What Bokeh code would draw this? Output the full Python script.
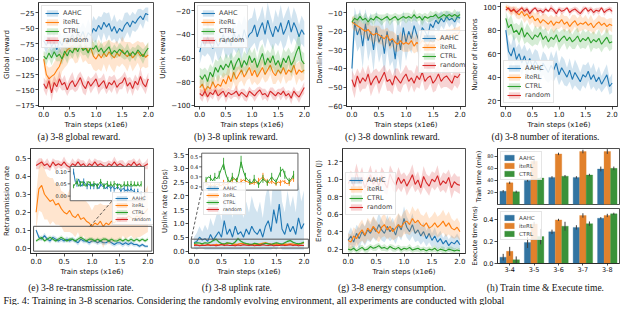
import numpy as np
from bokeh.plotting import figure
from bokeh.layouts import row, column
from bokeh.models import (ColumnDataSource, Range1d, FixedTicker, Legend, LegendItem,
                          CustomJSTickFormatter, FactorRange, PrintfTickFormatter)
from bokeh.transform import dodge
from bokeh.core.properties import value
from bokeh.embed import file_html
from bokeh.resources import INLINE

# ---------------- data ----------------
METHODS = ["AAHC", "iteRL", "CTRL", "random"]
COLORS = ["#1f77b4", "#ff7f0e", "#2ca02c", "#d62728"]
STEPS = [round(0.05 * i, 2) for i in range(41)]
X_TICKS = [0.0, 0.5, 1.0, 1.5, 2.0]

# (a) global reward
GLOBAL = {
    "AAHC": [-70, -78, -65, -80, -72, -85, -70, -78, -66, -75, -68, -60, -72, -58, -65, -55, -68, -57, -62, -50, -55,
             -45, -52, -40, -48, -42, -55, -47, -58, -50, -55, -45, -40, -48, -38, -42, -35, -30, -36, -26, -28],
    "iteRL": [-100, -125, -132, -128, -125, -118, -112, -100, -92, -85, -82, -78, -85, -80, -76, -84, -78, -88, -82, -95, -100,
              -92, -98, -90, -96, -88, -94, -98, -90, -95, -85, -92, -96, -90, -98, -93, -88, -95, -92, -97, -93],
    "CTRL": [-95, -100, -90, -98, -88, -96, -92, -100, -87, -95, -85, -90, -80, -88, -78, -86, -82, -90, -80, -84, -78,
             -88, -82, -90, -85, -80, -92, -86, -90, -84, -88, -92, -86, -95, -88, -93, -85, -90, -96, -88, -82],
    "random": [-140, -148, -135, -155, -138, -145, -132, -142, -138, -150, -140, -135, -145, -138, -130, -142, -148, -136, -144, -138, -132,
               -145, -140, -135, -148, -138, -142, -135, -146, -140, -138, -130, -144, -138, -148, -136, -142, -128, -140, -145, -132],
}
GLOBAL_SD = {
    "AAHC": [10, 14, 12, 15, 16, 13, 18, 14, 12, 16, 15, 18, 14, 20, 16, 15, 18, 22, 16, 20, 18, 15, 20, 17, 22, 18, 16, 20, 18, 15, 17, 20, 16, 18, 15, 14, 16, 12, 15, 10, 12],
    "iteRL": [12, 15, 18, 16, 20, 22, 25, 20, 22, 24, 18, 20, 22, 25, 18, 22, 24, 20, 26, 22, 20, 24, 22, 18, 25, 20, 22, 24, 20, 18, 22, 20, 24, 18, 22, 20, 18, 22, 20, 18, 20],
    "CTRL": [8, 10, 9, 12, 10, 8, 11, 9, 10, 12, 8, 10, 9, 12, 10, 8, 11, 10, 9, 12, 10, 8, 11, 9, 10, 12, 9, 10, 8, 11, 10, 9, 12, 10, 8, 11, 9, 10, 12, 9, 10],
    "random": [10, 12, 9, 14, 11, 10, 13, 9, 12, 10, 11, 14, 9, 12, 10, 13, 11, 9, 12, 10, 11, 13, 10, 12, 9, 11, 13, 10, 12, 9, 11, 10, 13, 9, 12, 11, 10, 14, 9, 12, 10],
}

# (b) uplink reward
UPLINK = {
    "AAHC": [-55, -45, -50, -42, -48, -52, -44, -50, -46, -40, -48, -42, -50, -38, -45, -40, -47, -36, -44, -40, -38,
             -32, -42, -35, -30, -40, -28, -36, -42, -33, -38, -30, -40, -35, -28, -38, -30, -35, -42, -36, -40],
    "iteRL": [-85, -82, -88, -84, -86, -80, -85, -82, -84, -78, -82, -75, -80, -72, -78, -74, -70, -76, -72, -68, -75,
              -70, -76, -72, -68, -74, -70, -66, -72, -75, -70, -73, -68, -74, -70, -72, -66, -74, -70, -72, -70],
    "CTRL": [-75, -78, -74, -80, -72, -76, -68, -72, -66, -70, -65, -68, -62, -70, -64, -60, -68, -62, -66, -58, -64,
             -60, -68, -62, -56, -66, -60, -64, -58, -66, -62, -68, -60, -64, -58, -66, -62, -55, -50, -62, -65],
    "random": [-90, -92, -88, -93, -89, -91, -87, -92, -90, -88, -93, -89, -91, -90, -88, -92, -89, -91, -93, -88, -90,
               -92, -89, -87, -91, -90, -93, -88, -90, -92, -89, -91, -88, -92, -90, -94, -88, -91, -93, -89, -85],
}
UPLINK_SD = {
    "AAHC": [10, 12, 9, 14, 11, 13, 10, 12, 14, 11, 13, 15, 12, 14, 11, 13, 15, 12, 14, 13, 12, 15, 13, 11, 14, 12, 15, 13, 11, 14, 12, 15, 13, 14, 12, 11, 13, 12, 10, 12, 11],
    "iteRL": [6, 7, 5, 8, 6, 7, 6, 8, 7, 6, 8, 9, 7, 8, 10, 7, 9, 8, 7, 9, 8, 10, 7, 9, 8, 7, 9, 8, 10, 7, 8, 9, 7, 8, 9, 7, 8, 9, 7, 8, 8],
    "CTRL": [7, 8, 6, 9, 7, 8, 7, 9, 8, 7, 9, 8, 7, 10, 8, 9, 7, 8, 9, 7, 8, 9, 7, 10, 8, 9, 7, 8, 10, 8, 9, 7, 8, 9, 7, 10, 8, 9, 12, 8, 9],
    "random": [4, 5, 3, 5, 4, 4, 3, 5, 4, 3, 5, 4, 4, 3, 5, 4, 3, 5, 4, 4, 3, 5, 4, 3, 5, 4, 4, 3, 5, 4, 3, 5, 4, 4, 3, 5, 4, 3, 5, 4, 5],
}

# (c) downlink reward
DOWNLINK = {
    "AAHC": [-40, -15, -22, -18, -28, -16, -25, -20, -30, -18, -26, -22, -32, -20, -28, -24, -35, -22, -30, -18, -26,
             -20, -24, -17, -22, -26, -18, -20, -23, -16, -18, -14, -16, -13, -15, -12, -14, -13, -15, -12, -13],
    "iteRL": [-15, -16, -17, -18, -19, -20, -19, -21, -22, -21, -22, -23, -24, -22, -25, -24, -26, -27, -25, -27, -26,
              -27, -25, -28, -26, -27, -25, -26, -28, -25, -26, -24, -25, -23, -24, -22, -23, -22, -21, -22, -20],
    "CTRL": [-15, -13, -14, -12, -14, -13, -15, -13, -14, -12, -13, -14, -13, -12, -14, -13, -12, -14, -13, -12, -13,
             -12, -13, -11, -13, -12, -14, -12, -13, -12, -12, -11, -13, -12, -11, -12, -11, -12, -11, -12, -11],
    "random": [-46, -50, -44, -48, -45, -47, -43, -49, -46, -44, -48, -45, -42, -47, -46, -49, -44, -46, -48, -45, -43,
               -47, -45, -48, -44, -46, -42, -47, -45, -44, -48, -46, -43, -47, -45, -44, -46, -48, -44, -45, -43],
}
DOWNLINK_SD = {
    "AAHC": [10, 8, 9, 10, 12, 8, 11, 10, 12, 9, 11, 10, 12, 10, 11, 12, 10, 11, 12, 9, 10, 9, 8, 7, 8, 9, 7, 6, 7, 5, 6, 4, 5, 4, 4, 3, 4, 3, 4, 3, 3],
    "iteRL": [3, 4, 3, 4, 3, 4, 5, 4, 5, 4, 5, 4, 5, 4, 5, 4, 5, 4, 5, 4, 5, 4, 5, 4, 5, 4, 5, 4, 5, 4, 4, 3, 4, 3, 4, 3, 4, 3, 3, 4, 3],
    "CTRL": [2, 2, 3, 2, 2, 3, 2, 2, 3, 2, 2, 3, 2, 2, 3, 2, 2, 3, 2, 2, 3, 2, 2, 3, 2, 2, 3, 2, 2, 3, 2, 2, 3, 2, 2, 3, 2, 2, 3, 2, 2],
    "random": [5, 6, 4, 5, 6, 4, 5, 6, 5, 4, 6, 5, 4, 5, 6, 5, 4, 6, 5, 4, 5, 6, 4, 5, 6, 5, 4, 5, 6, 4, 5, 6, 5, 4, 5, 6, 5, 4, 5, 6, 5],
}

# (d) number of iterations
ITERS = {
    "AAHC": [80, 62, 58, 65, 55, 60, 52, 58, 50, 56, 48, 54, 50, 45, 52, 48, 44, 50, 46, 52, 42,
             48, 44, 40, 46, 38, 44, 40, 36, 42, 40, 45, 38, 42, 36, 40, 34, 38, 42, 32, 35],
    "iteRL": [100, 98, 96, 97, 95, 93, 96, 92, 94, 90, 92, 88, 90, 86, 89, 87, 85, 88, 84, 87, 86,
              89, 85, 87, 83, 86, 88, 84, 86, 85, 87, 84, 86, 82, 85, 87, 84, 86, 83, 85, 84],
    "CTRL": [90, 82, 85, 78, 80, 76, 82, 74, 78, 75, 72, 76, 74, 78, 72, 75, 70, 74, 72, 76, 70,
             73, 75, 71, 74, 70, 72, 75, 70, 73, 71, 74, 69, 72, 70, 73, 68, 71, 74, 69, 70],
    "random": [97, 99, 96, 98, 95, 97, 99, 96, 98, 94, 97, 99, 96, 97, 95, 98, 96, 99, 97, 94, 98,
               96, 97, 99, 95, 97, 98, 96, 94, 97, 99, 96, 98, 95, 97, 96, 99, 95, 97, 98, 96],
}
ITERS_SD = {
    "AAHC": [8, 10, 9, 12, 10, 9, 11, 10, 12, 9, 11, 10, 12, 9, 10, 11, 9, 12, 10, 11, 9, 10, 11, 8, 10, 9, 11, 10, 8, 9, 10, 8, 9, 10, 8, 9, 7, 8, 9, 7, 8],
    "iteRL": [2, 3, 4, 3, 5, 4, 5, 6, 5, 6, 5, 6, 7, 6, 5, 7, 6, 5, 7, 6, 5, 6, 7, 5, 6, 7, 5, 6, 7, 5, 6, 5, 7, 6, 5, 6, 7, 5, 6, 5, 6],
    "CTRL": [6, 7, 8, 7, 6, 8, 7, 6, 8, 7, 6, 8, 7, 6, 8, 7, 6, 8, 7, 6, 8, 7, 6, 8, 7, 6, 8, 7, 6, 8, 7, 6, 8, 7, 6, 8, 7, 6, 8, 7, 6],
    "random": [2, 1, 3, 2, 3, 2, 1, 3, 2, 3, 2, 1, 3, 2, 3, 2, 1, 3, 2, 3, 2, 3, 2, 1, 3, 2, 2, 3, 2, 3, 1, 3, 2, 3, 2, 3, 1, 3, 2, 2, 3],
}

# (e) re-transmission rate
RETX = {
    "AAHC": [0.10, 0.06, 0.05, 0.07, 0.05, 0.04, 0.06, 0.05, 0.04, 0.05, 0.04, 0.05, 0.04, 0.05, 0.04, 0.03, 0.05, 0.04, 0.04, 0.03, 0.04,
             0.04, 0.03, 0.04, 0.03, 0.03, 0.04, 0.03, 0.02, 0.03, 0.03, 0.02, 0.03, 0.02, 0.03, 0.02, 0.02, 0.01, 0.02, 0.01, 0.01],
    "iteRL": [0.20, 0.33, 0.35, 0.30, 0.28, 0.26, 0.27, 0.24, 0.25, 0.22, 0.20, 0.19, 0.21, 0.18, 0.17, 0.19, 0.16, 0.17, 0.15, 0.14, 0.12,
              0.14, 0.13, 0.15, 0.12, 0.14, 0.13, 0.15, 0.14, 0.16, 0.15, 0.17, 0.16, 0.18, 0.17, 0.16, 0.18, 0.17, 0.19, 0.20, 0.22],
    "CTRL": [0.04, 0.05, 0.06, 0.04, 0.05, 0.06, 0.05, 0.04, 0.05, 0.06, 0.05, 0.04, 0.05, 0.05, 0.04, 0.05, 0.06, 0.05, 0.04, 0.05, 0.05,
             0.04, 0.05, 0.04, 0.05, 0.05, 0.04, 0.05, 0.04, 0.04, 0.05, 0.04, 0.05, 0.04, 0.05, 0.04, 0.05, 0.04, 0.05, 0.04, 0.05],
    "random": [0.46, 0.47, 0.48, 0.46, 0.47, 0.45, 0.48, 0.46, 0.47, 0.46, 0.48, 0.46, 0.45, 0.47, 0.46, 0.48, 0.46, 0.47, 0.45, 0.47, 0.46,
               0.48, 0.46, 0.47, 0.46, 0.45, 0.47, 0.46, 0.48, 0.46, 0.47, 0.46, 0.45, 0.47, 0.46, 0.48, 0.46, 0.47, 0.45, 0.46, 0.47],
}
RETX_SD = {
    "AAHC": [0.012, 0.015, 0.012, 0.015, 0.012, 0.014, 0.012, 0.015, 0.012, 0.014, 0.012, 0.015, 0.012, 0.014, 0.012, 0.015, 0.012, 0.014, 0.012, 0.015, 0.012,
             0.014, 0.012, 0.015, 0.012, 0.014, 0.012, 0.015, 0.012, 0.014, 0.012, 0.015, 0.012, 0.014, 0.012, 0.012, 0.010, 0.010, 0.010, 0.008, 0.008],
    "iteRL": [0.10, 0.12, 0.15, 0.14, 0.12, 0.13, 0.12, 0.11, 0.12, 0.10, 0.11, 0.10, 0.12, 0.10, 0.11, 0.10, 0.12, 0.10, 0.11, 0.10, 0.09,
              0.10, 0.11, 0.10, 0.12, 0.10, 0.11, 0.12, 0.10, 0.11, 0.12, 0.10, 0.11, 0.12, 0.10, 0.11, 0.12, 0.11, 0.12, 0.12, 0.13],
    "CTRL": [0.008, 0.010, 0.012, 0.009, 0.010, 0.012, 0.009, 0.010, 0.011, 0.012, 0.009, 0.010, 0.011, 0.009, 0.010, 0.012, 0.010, 0.009, 0.011, 0.010, 0.012,
             0.009, 0.010, 0.011, 0.012, 0.009, 0.010, 0.011, 0.009, 0.012, 0.010, 0.009, 0.011, 0.010, 0.012, 0.009, 0.010, 0.011, 0.009, 0.010, 0.011],
    "random": [0.020, 0.030, 0.020, 0.020, 0.030, 0.020, 0.020, 0.030, 0.020, 0.020, 0.030, 0.020, 0.020, 0.030, 0.020, 0.020, 0.030, 0.020, 0.020, 0.030, 0.020,
               0.020, 0.030, 0.020, 0.020, 0.030, 0.020, 0.020, 0.030, 0.020, 0.020, 0.030, 0.020, 0.020, 0.030, 0.020, 0.020, 0.030, 0.020, 0.020, 0.030],
}

# (f) uplink rate
RATE = {
    "AAHC": [0.30, 0.35, 0.50, 0.40, 0.45, 0.35, 0.60, 0.40, 0.55, 0.70, 0.50, 1.10, 0.60, 0.80, 0.50, 0.90, 0.60, 0.70, 0.50, 0.80, 0.60,
             0.90, 0.70, 0.60, 0.80, 0.50, 0.90, 1.10, 0.70, 1.50, 1.00, 1.70, 0.80, 0.60, 1.00, 0.70, 0.90, 0.60, 1.20, 0.80, 1.00],
    "iteRL": [0.24, 0.22, 0.21, 0.22, 0.21, 0.23, 0.22, 0.21, 0.24, 0.22, 0.23, 0.25, 0.27, 0.28, 0.26, 0.24, 0.25, 0.27, 0.26, 0.25, 0.24,
              0.23, 0.25, 0.24, 0.26, 0.28, 0.30, 0.27, 0.25, 0.24, 0.26, 0.24, 0.23, 0.25, 0.24, 0.26, 0.25, 0.23, 0.24, 0.27, 0.29],
    "CTRL": [0.27, 0.30, 0.29, 0.26, 0.30, 0.28, 0.32, 0.38, 0.43, 0.33, 0.27, 0.25, 0.30, 0.28, 0.26, 0.33, 0.45, 0.36, 0.30, 0.27, 0.25,
             0.24, 0.28, 0.26, 0.22, 0.25, 0.28, 0.26, 0.24, 0.27, 0.30, 0.27, 0.25, 0.30, 0.35, 0.38, 0.32, 0.28, 0.26, 0.28, 0.32],
    "random": [0.20, 0.22, 0.19, 0.21, 0.20, 0.23, 0.20, 0.22, 0.19, 0.21, 0.24, 0.20, 0.22, 0.20, 0.21, 0.19, 0.22, 0.20, 0.23, 0.21, 0.20,
               0.22, 0.19, 0.21, 0.20, 0.23, 0.21, 0.20, 0.22, 0.19, 0.21, 0.20, 0.22, 0.20, 0.21, 0.23, 0.20, 0.22, 0.19, 0.21, 0.20],
}
RATE_SD = {
    "AAHC": [0.20, 0.30, 0.40, 0.30, 0.50, 0.40, 0.60, 0.50, 0.70, 0.90, 0.60, 1.20, 0.80, 1.00, 0.70, 1.10, 0.80, 0.90, 0.70, 1.00, 0.80,
             1.10, 0.90, 0.80, 1.00, 0.70, 1.10, 1.30, 0.90, 1.40, 1.20, 1.50, 1.00, 0.80, 1.20, 0.90, 1.10, 0.80, 1.30, 1.00, 1.20],
    "iteRL": [0.03, 0.02, 0.03, 0.02, 0.03, 0.03, 0.02, 0.03, 0.03, 0.02, 0.03, 0.03, 0.04, 0.03, 0.03, 0.02, 0.03, 0.04, 0.03, 0.03, 0.02,
              0.03, 0.03, 0.02, 0.03, 0.04, 0.04, 0.03, 0.03, 0.02, 0.03, 0.03, 0.02, 0.03, 0.03, 0.03, 0.02, 0.03, 0.03, 0.04, 0.04],
    "CTRL": [0.03, 0.04, 0.03, 0.03, 0.04, 0.03, 0.04, 0.05, 0.06, 0.04, 0.03, 0.03, 0.04, 0.03, 0.03, 0.05, 0.06, 0.05, 0.04, 0.03, 0.03,
             0.03, 0.04, 0.03, 0.03, 0.03, 0.04, 0.03, 0.03, 0.04, 0.04, 0.03, 0.03, 0.04, 0.05, 0.05, 0.04, 0.03, 0.03, 0.04, 0.04],
    "random": [0.03, 0.02, 0.03, 0.03, 0.02, 0.03, 0.03, 0.02, 0.03, 0.03, 0.02, 0.03, 0.03, 0.02, 0.03, 0.03, 0.02, 0.03, 0.03, 0.02, 0.03,
               0.03, 0.02, 0.03, 0.03, 0.02, 0.03, 0.03, 0.02, 0.03, 0.03, 0.02, 0.03, 0.03, 0.02, 0.03, 0.03, 0.02, 0.03, 0.03, 0.02],
}

# (g) energy consumption
ENERGY = {
    "AAHC": [0.30, 0.35, 0.28, 0.38, 0.32, 0.40, 0.35, 0.42, 0.38, 0.45, 0.40, 0.48, 0.42, 0.38, 0.46, 0.40, 0.44, 0.36, 0.48, 0.42, 0.55,
             0.45, 0.40, 0.48, 0.38, 0.42, 0.35, 0.40, 0.32, 0.38, 0.30, 0.35, 0.28, 0.32, 0.26, 0.30, 0.24, 0.28, 0.26, 0.30, 0.25],
    "iteRL": [0.30, 0.28, 0.35, 0.32, 0.38, 0.42, 0.36, 0.44, 0.40, 0.46, 0.42, 0.38, 0.45, 0.48, 0.42, 0.46, 0.40, 0.44, 0.48, 0.45, 0.50,
              0.52, 0.48, 0.55, 0.50, 0.53, 0.48, 0.46, 0.50, 0.44, 0.46, 0.50, 0.45, 0.48, 0.52, 0.46, 0.50, 0.44, 0.42, 0.45, 0.40],
    "CTRL": [0.20, 0.19, 0.21, 0.18, 0.20, 0.22, 0.19, 0.20, 0.23, 0.21, 0.22, 0.24, 0.21, 0.22, 0.20, 0.23, 0.21, 0.20, 0.22, 0.19, 0.21,
             0.20, 0.22, 0.19, 0.20, 0.21, 0.19, 0.20, 0.18, 0.20, 0.19, 0.21, 0.18, 0.20, 0.19, 0.18, 0.20, 0.19, 0.18, 0.19, 0.18],
    "random": [0.95, 1.00, 0.92, 1.08, 0.96, 1.02, 0.90, 0.98, 1.05, 0.94, 1.00, 0.92, 1.04, 0.96, 0.90, 1.06, 0.98, 0.93, 1.02, 0.95, 1.00,
               0.92, 0.98, 1.05, 0.94, 0.99, 0.90, 1.03, 0.96, 0.92, 1.00, 0.97, 1.04, 0.93, 0.98, 0.95, 1.02, 0.90, 0.97, 0.94, 0.93],
}
ENERGY_SD = {
    "AAHC": [0.08, 0.10, 0.09, 0.10, 0.12, 0.10, 0.11, 0.12, 0.10, 0.12, 0.11, 0.13, 0.12, 0.10, 0.13, 0.11, 0.12, 0.10, 0.13, 0.12, 0.14,
             0.12, 0.11, 0.13, 0.10, 0.12, 0.10, 0.11, 0.09, 0.10, 0.08, 0.10, 0.08, 0.09, 0.07, 0.08, 0.07, 0.08, 0.07, 0.08, 0.07],
    "iteRL": [0.08, 0.09, 0.10, 0.10, 0.11, 0.12, 0.10, 0.12, 0.11, 0.12, 0.11, 0.10, 0.12, 0.13, 0.11, 0.12, 0.10, 0.12, 0.13, 0.12, 0.13,
              0.14, 0.12, 0.14, 0.13, 0.14, 0.12, 0.12, 0.13, 0.11, 0.12, 0.13, 0.12, 0.12, 0.13, 0.12, 0.13, 0.11, 0.10, 0.11, 0.10],
    "CTRL": [0.03, 0.04, 0.03, 0.03, 0.04, 0.03, 0.03, 0.04, 0.03, 0.03, 0.04, 0.03, 0.03, 0.04, 0.03, 0.03, 0.04, 0.03, 0.03, 0.04, 0.03,
             0.03, 0.04, 0.03, 0.03, 0.04, 0.03, 0.03, 0.04, 0.03, 0.03, 0.04, 0.03, 0.03, 0.04, 0.03, 0.03, 0.04, 0.03, 0.03, 0.03],
    "random": [0.08, 0.10, 0.12, 0.10, 0.09, 0.12, 0.10, 0.08, 0.11, 0.10, 0.12, 0.09, 0.10, 0.12, 0.08, 0.10, 0.11, 0.09, 0.12, 0.10, 0.08,
               0.11, 0.10, 0.12, 0.09, 0.10, 0.08, 0.12, 0.10, 0.11, 0.09, 0.10, 0.12, 0.08, 0.10, 0.11, 0.09, 0.12, 0.10, 0.09, 0.10],
}

# (h) bar charts
SCENARIOS = ["3-4", "3-5", "3-6", "3-7", "3-8"]
BAR_METHODS = ["AAHC", "iteRL", "CTRL"]
BAR_COLORS = ["#3274a1", "#e1812c", "#3a923a"]
TRAIN_TIME = {"AAHC": [22, 40, 45, 45, 59], "iteRL": [36, 72, 84, 88, 88], "CTRL": [21, 44, 47, 49, 60]}
TRAIN_ERR = {"AAHC": [2, 2, 2, 2, 4], "iteRL": [2, 5, 2, 3, 4], "CTRL": [2, 1, 2, 2, 3]}
EXEC_TIME = {"AAHC": [0.057, 0.19, 0.286, 0.326, 0.409], "iteRL": [0.11, 0.357, 0.394, 0.434, 0.434], "CTRL": [0.034, 0.243, 0.337, 0.36, 0.449]}
EXEC_ERR = {"AAHC": [0.03, 0.05, 0.02, 0.02, 0.01], "iteRL": [0.04, 0.02, 0.01, 0.02, 0.015], "CTRL": [0.03, 0.07, 0.04, 0.02, 0.01]}

CAPTIONS_1 = ["(a) 3-8 global reward.", "(b) 3-8 uplink reward.", "(c) 3-8 downlink reward.", "(d) 3-8 number of iterations."]
CAPTIONS_2 = ["(e) 3-8 re-transmission rate.", "(f) 3-8 uplink rate.", "(g) 3-8 energy consumption.", "(h) Train time & Execute time."]
FIG_CAPTION = "Fig. 4: Training in 3-8 scenarios. Considering the randomly evolving environment, all experiments are conducted with global"

# ---------------- styling helpers ----------------
FONT = "DejaVu Sans"
SERIF = "Liberation Serif"
INK = "#222222"
NEG = CustomJSTickFormatter(code="return tick < 0 ? '\u2212' + Math.abs(tick) : tick.toString();")
XR = (-0.1, 2.1)


def base_fig(width, height, x_range, y_range, lb, rb, tb, bb):
    p = figure(width=width, height=height, x_range=x_range, y_range=y_range,
               output_backend="svg", toolbar_location=None,
               min_border_left=lb, min_border_right=rb, min_border_top=tb, min_border_bottom=bb)
    p.xgrid.visible = False
    p.ygrid.visible = False
    p.outline_line_color = INK
    p.outline_line_width = 0.8
    for ax in list(p.xaxis) + list(p.yaxis):
        ax.axis_line_color = INK
        ax.axis_line_width = 0.8
        ax.major_tick_out = 3
        ax.major_tick_in = 0
        ax.major_tick_line_color = INK
        ax.major_tick_line_width = 0.8
        ax.minor_tick_line_color = None
        ax.major_label_text_font = FONT
        ax.major_label_text_font_size = "7px"
        ax.major_label_text_color = "#111111"
        ax.major_label_standoff = 1
        ax.axis_label_text_font = FONT
        ax.axis_label_text_font_size = "7px"
        ax.axis_label_text_font_style = "normal"
        ax.axis_label_text_color = "#111111"
        ax.axis_label_standoff = 1
    return p


def add_legend(p, items, location, font="6.5px", glyph_w=14, row_h=8, pad=3):
    lg = Legend(items=items, location=location, label_text_font=FONT, label_text_font_size=font,
                glyph_width=glyph_w, glyph_height=row_h, label_height=row_h, spacing=1,
                padding=pad, margin=3, label_standoff=4,
                border_line_color="#cccccc", border_line_width=0.8,
                background_fill_color="white", background_fill_alpha=0.85)
    p.add_layout(lg)


def ts_fig(data, sd, y_range, yticks, ylabel, lb, width, height, tb, bb, yfmt=None, clip_low=None):
    p = base_fig(width, height, XR, y_range, lb, 3, tb, bb)
    items = []
    for m, c in zip(METHODS, COLORS):
        y = np.array(data[m], dtype=float)
        s = np.array(sd[m], dtype=float)
        lo = y - s
        if clip_low is not None:
            lo = np.maximum(lo, clip_low)
        src = ColumnDataSource(dict(x=STEPS, y=y, lo=lo, hi=y + s))
        rb_ = p.varea(x="x", y1="lo", y2="hi", source=src, fill_color=c, fill_alpha=0.2)
        rl = p.line("x", "y", source=src, line_color=c, line_width=1.1)
        items.append(LegendItem(label=m, renderers=[rb_, rl]))
    p.xaxis.ticker = FixedTicker(ticks=X_TICKS)
    p.xaxis.formatter = PrintfTickFormatter(format="%.1f")
    p.yaxis.ticker = FixedTicker(ticks=yticks)
    p.xaxis.axis_label = "Train steps (x1e6)"
    p.yaxis.axis_label = ylabel
    if yfmt is not None:
        p.yaxis.formatter = yfmt
    return p, items


def add_inset(p, name, main_x, main_y, box, in_x, in_y, series, step_idx, ticks, tick_labels):
    x0, x1, y0, y1 = box
    fx0 = (x0 - main_x[0]) / (main_x[1] - main_x[0])
    fx1 = (x1 - main_x[0]) / (main_x[1] - main_x[0])
    sx = (in_x[1] - in_x[0]) / (fx1 - fx0)
    ax0 = in_x[0] - fx0 * sx
    fy0 = (y0 - main_y[0]) / (main_y[1] - main_y[0])
    fy1 = (y1 - main_y[0]) / (main_y[1] - main_y[0])
    sy = (in_y[1] - in_y[0]) / (fy1 - fy0)
    ay0 = in_y[0] - fy0 * sy
    xr, yr = name + "_x", name + "_y"
    p.extra_x_ranges = {xr: Range1d(ax0, ax0 + sx)}
    p.extra_y_ranges = {yr: Range1d(ay0, ay0 + sy)}
    p.quad(left=[x0], right=[x1], bottom=[y0], top=[y1], fill_color="white", line_color="#555555", line_width=0.9)
    xs = np.array(STEPS)
    for y, s, c in series:
        y = np.array(y, dtype=float)
        s = np.array(s, dtype=float)
        p.line(xs, y, line_color=c, line_width=1.0, x_range_name=xr, y_range_name=yr)
        p.segment(x0=xs[step_idx], y0=(y - s)[step_idx], x1=xs[step_idx], y1=(y + s)[step_idx],
                  line_color=c, line_width=0.9, x_range_name=xr, y_range_name=yr)
    n = len(ticks)
    p.ray(x=[x0] * n, y=ticks, length=2.5, length_units="screen", angle=np.pi,
          line_color=INK, line_width=0.7, y_range_name=yr)
    p.text(x=[x0] * n, y=ticks, text=tick_labels, x_offset=-3.5, y_range_name=yr,
           text_align="right", text_baseline="middle", text_font=value(FONT),
           text_font_size="5px", text_color="#111111")


# ---------------- row 1 ----------------
H1, TB1, BB1 = 131, 2, 24
pa, ia = ts_fig(GLOBAL, GLOBAL_SD, (-177, -8), [-175, -150, -125, -100, -75, -50, -25], "Global reward",
                32, 156, H1, TB1, BB1, yfmt=NEG)
add_legend(pa, ia, "top_left")
pb, ib = ts_fig(UPLINK, UPLINK_SD, (-101, -13), [-100, -80, -60, -40, -20], "Uplink reward",
                34, 156, H1, TB1, BB1, yfmt=NEG)
add_legend(pb, ib, "top_left")
pc, ic = ts_fig(DOWNLINK, DOWNLINK_SD, (-60.5, -4.5), [-60, -50, -40, -30, -20, -10], "Downlink reward",
                31, 156, H1, TB1, BB1, yfmt=NEG)
add_legend(pc, ic, (72, 33))
pd, idd = ts_fig(ITERS, ITERS_SD, (15, 103.5), [20, 40, 60, 80, 100], "Number of iterations",
                 28, 156, H1, TB1, BB1)
pd.min_border_right = 7
add_legend(pd, idd, "bottom_left")

# ---------------- row 2 ----------------
H2, TB2, BB2 = 131, 1, 20
EY = (-0.03, 0.555)
pe, ie = ts_fig(RETX, RETX_SD, EY, [0.0, 0.1, 0.2, 0.3, 0.4, 0.5], "Retransmission rate",
                28, 156, H2, TB2, BB2, yfmt=PrintfTickFormatter(format="%.1f"))
pe.quad(left=[-0.045], right=[2.07], bottom=[-0.017], top=[0.1215], fill_color=None,
        line_color="#555555", line_width=1.0)
pe.segment(x0=[0.966], y0=[0.1215], x1=[1.363], y1=[0.264], line_color="#333333",
           line_width=0.8, line_dash="3 2")
add_inset(pe, "ie", XR, EY, (0.61, 1.94, 0.264, 0.455), (-0.1, 2.1), (-0.019, 0.121),
          [(RETX["AAHC"], RETX_SD["AAHC"], COLORS[0]), (RETX["CTRL"], RETX_SD["CTRL"], COLORS[2])],
          list(range(0, 41, 2)), [0.0, 0.05, 0.10], ["0.00", "0.05", "0.10"])
add_legend(pe, ie, (82, 28), font="4.8px", glyph_w=13, row_h=6, pad=2)

FY = (-0.09, 3.72)
pf, iff = ts_fig(RATE, RATE_SD, FY, [0.0, 0.5, 1.0, 1.5, 2.0, 2.5, 3.0, 3.5], "Uplink rate (Gbps)",
                 32, 156, H2, TB2, BB2, yfmt=PrintfTickFormatter(format="%.1f"), clip_low=0.05)
pf.quad(left=[-0.05], right=[2.08], bottom=[0.107], top=[0.43], fill_color=None,
        line_color="#555555", line_width=1.0)
pf.segment(x0=[-0.05], y0=[0.43], x1=[0.14], y1=[2.21], line_color="#333333",
           line_width=0.8, line_dash="3 2")
add_inset(pf, "if", XR, FY, (0.14, 1.89, 2.21, 3.55), (-0.1, 2.1), (0.168, 0.536),
          [(RATE["iteRL"], RATE_SD["iteRL"], COLORS[1]), (RATE["CTRL"], RATE_SD["CTRL"], COLORS[2])],
          list(range(0, 41, 2)), [0.2, 0.3, 0.4, 0.5], ["0.2", "0.3", "0.4", "0.5"])
add_legend(pf, iff, (15, 38), font="4.8px", glyph_w=13, row_h=6, pad=2)

pg, ig = ts_fig(ENERGY, ENERGY_SD, (0.15, 1.35), [0.2, 0.4, 0.6, 0.8, 1.0, 1.2], "Energy consumption (J)",
                28, 156, H2, TB2, BB2, yfmt=PrintfTickFormatter(format="%.1f"))
add_legend(pg, ig, (3, 38))


# (h) bar charts
def bar_fig(vals, errs, y_range, yticks, ylabel, height, tb, bb, tick_font, show_x, yfmt=None):
    p = base_fig(156, height, FactorRange(factors=SCENARIOS), y_range, 27, 5, tb, bb)
    src = ColumnDataSource(dict(cat=SCENARIOS))
    items = []
    w = 0.8 / 3
    for i, (m, c) in enumerate(zip(BAR_METHODS, BAR_COLORS)):
        v = np.array(vals[m], dtype=float)
        e = np.array(errs[m], dtype=float)
        src.data[m] = v
        src.data[m + "_lo"] = v - e
        src.data[m + "_hi"] = v + e
        off = (i - 1) * w
        r = p.vbar(x=dodge("cat", off, range=p.x_range), top=m, width=w, source=src,
                   fill_color=c, line_color=c, line_width=0.3)
        p.segment(x0=dodge("cat", off, range=p.x_range), y0=m + "_lo",
                  x1=dodge("cat", off, range=p.x_range), y1=m + "_hi", source=src,
                  line_color="#3f3f3f", line_width=1.0)
        items.append(LegendItem(label=m, renderers=[r]))
    p.yaxis.ticker = FixedTicker(ticks=yticks)
    p.yaxis.axis_label = ylabel
    p.yaxis.axis_label_text_font_size = "6.5px"
    p.yaxis.major_label_text_font_size = tick_font
    if yfmt is not None:
        p.yaxis.formatter = yfmt
    p.xaxis.major_tick_out = 2
    if show_x:
        p.xaxis.major_label_text_font_size = "6.5px"
    else:
        p.xaxis.visible = False
    add_legend(p, items, "top_left", font="5.5px", glyph_w=12, row_h=7, pad=2)
    return p


ph1 = bar_fig(TRAIN_TIME, TRAIN_ERR, (0, 93), [20, 40, 60, 80], "Train time (min)", 59, 1, 2, "5px", False)
ph2 = bar_fig(EXEC_TIME, EXEC_ERR, (0, 0.497), [0.0, 0.2, 0.4], "Execute time (ms)", 72, 2, 15, "6.5px", True,
              yfmt=PrintfTickFormatter(format="%.1f"))


# ---------------- captions ----------------
def caption_fig(height, xs, ys, texts, sizes, aligns):
    p = figure(width=624, height=height, x_range=(0, 624), y_range=(0, height),
               output_backend="svg", toolbar_location=None, x_axis_type=None, y_axis_type=None,
               min_border=0)
    p.grid.visible = False
    p.outline_line_color = None
    for x, y, t, s, a in zip(xs, ys, texts, sizes, aligns):
        p.text(x=[x], y=[y], text=[t], text_align=a, text_baseline="middle",
               text_font=value(SERIF), text_font_size=s, text_color="#111111")
    return p


cap1 = caption_fig(16, [78.5, 235.5, 392, 545], [10.2] * 4, CAPTIONS_1, ["9.5px"] * 4, ["center"] * 4)
cap2 = caption_fig(27, [80.4, 236.4, 391.5, 545, 3], [17.1] * 4 + [5.5], CAPTIONS_2 + [FIG_CAPTION],
                   ["9.5px"] * 4 + ["10px"], ["center"] * 4 + ["left"])

layout = column(row(pa, pb, pc, pd), cap1, row(pe, pf, pg, column(ph1, ph2)), cap2)

open("out.html", "w").write(file_html(layout, INLINE))
